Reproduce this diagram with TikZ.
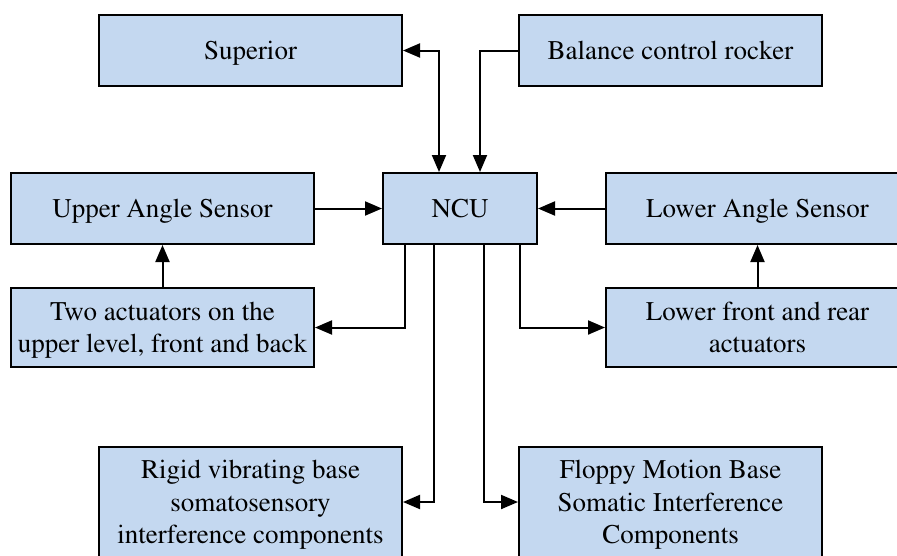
\documentclass[tikz,border=0pt]{standalone}
\usepackage[T1]{fontenc}
\usepackage{times}
\usetikzlibrary{arrows.meta}
\definecolor{boxblue}{RGB}{196,216,240}
\tikzset{
  blockbox/.style={rectangle, draw=black, fill=boxblue, line width=2pt, inner sep=0pt,
    minimum width=303pt, minimum height=71pt, align=center, text depth=0pt,
    font=\fontsize{27}{32.5}\selectfont},
  tip/.tip={Triangle[length=17pt,width=14pt]},
  link/.style={line width=2pt, -tip},
}
\begin{document}
\begin{tikzpicture}[x=1pt, y=-1pt]
\clip (0,0) rectangle (897,555);
\fill[white] (0,0) rectangle (897,555);
% top row
\node[blockbox] (sup) at (250.5,50.5) {Superior};
\node[blockbox] (bal) at (670.5,50.5) {Balance control rocker};
% middle row
\node[blockbox] (uas) at (162.5,208.5) {Upper Angle Sensor};
\node[blockbox, minimum width=154pt] (ncu) at (460,208.5) {NCU};
\node[blockbox] (las) at (757.5,208.5) {Lower Angle Sensor};
% actuators
\node[blockbox, minimum height=79pt] (ta) at (162.5,327.5) {Two actuators on the\\upper level, front and back};
\node[blockbox, minimum height=79pt] (lfr) at (757.5,327.5) {Lower front and rear\\actuators};
% bases
\node[blockbox, minimum height=110pt] (rig) at (250.5,502) {Rigid vibrating base\\somatosensory\\interference components};
\node[blockbox, minimum height=110pt] (flo) at (670.5,502) {Floppy Motion Base\\Somatic Interference\\Components};
% connectors
\draw[link, tip-tip] (sup.east) -| ([xshift=-21pt]ncu.north);
\draw[link] (bal.west) -| ([xshift=20pt]ncu.north);
\draw[link] (uas) -- (ncu);
\draw[link] (las) -- (ncu);
\draw[link] (ta) -- (uas);
\draw[link] (lfr) -- (las);
\draw[link] ([xshift=-55pt]ncu.south) |- (ta.east);
\draw[link] ([xshift=-26pt]ncu.south) |- (rig.east);
\draw[link] ([xshift=24pt]ncu.south) |- (flo.west);
\draw[link] ([xshift=60pt]ncu.south) |- (lfr.west);
\end{tikzpicture}
\end{document}
